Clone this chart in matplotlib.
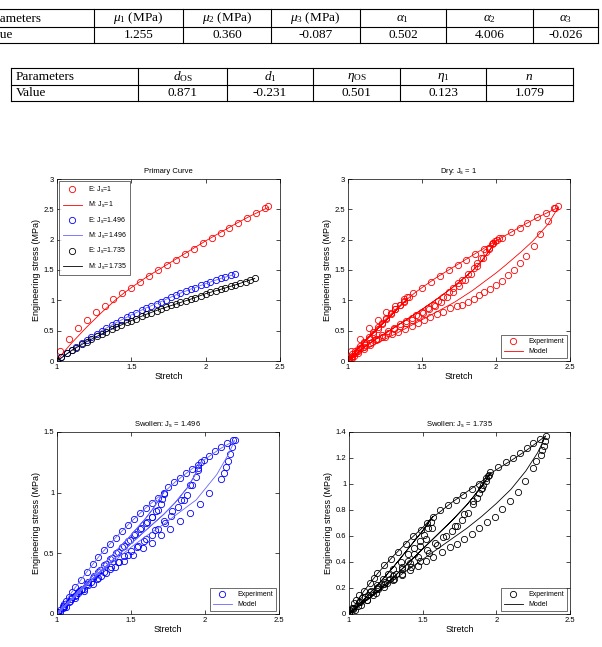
import numpy as np
import matplotlib
matplotlib.use('Agg')
from matplotlib import pyplot as plt
from matplotlib.lines import Line2D

plt.rcParams['font.family'] = 'Liberation Sans'
plt.rcParams['mathtext.fontset'] = 'custom'
plt.rcParams['mathtext.rm'] = 'Liberation Serif'
plt.rcParams['mathtext.it'] = 'Liberation Serif:italic'
plt.rcParams['mathtext.default'] = 'regular'

# ---- tables ----
tab1_header = ['Parameters', r'$\mathit{\mu}_1$ (MPa)', r'$\mathit{\mu}_2$ (MPa)', r'$\mathit{\mu}_3$ (MPa)',
               r'$\mathit{\alpha}_1$', r'$\mathit{\alpha}_2$', r'$\mathit{\alpha}_3$']
tab1_values = ['Value', '1.255', '0.360', '-0.087', '0.502', '4.006', '-0.026']
tab2_header = ['Parameters', r'$\mathit{d}_{OS}$', r'$\mathit{d}_1$', r'$\mathit{\eta}_{OS}$',
               r'$\mathit{\eta}_1$', r'$\mathit{n}$']
tab2_values = ['Value', '0.871', '-0.231', '0.501', '0.123', '1.079']

# ---- primary curves ----
prim_red_x = [1.02, 1.08, 1.14, 1.20, 1.26, 1.32, 1.38, 1.44, 1.50, 1.56, 1.62, 1.68, 1.74,
              1.80, 1.86, 1.92, 1.98, 2.04, 2.10, 2.16, 2.22, 2.28, 2.34, 2.40, 2.42]
prim_red_y = [0.16, 0.37, 0.54, 0.68, 0.80, 0.91, 1.02, 1.12, 1.21, 1.31, 1.40, 1.50, 1.58,
              1.67, 1.76, 1.85, 1.94, 2.02, 2.11, 2.19, 2.28, 2.36, 2.44, 2.53, 2.55]
prim_blue_x = [1.00, 1.03, 1.07, 1.10, 1.13, 1.17, 1.20, 1.23, 1.27, 1.30, 1.33, 1.37, 1.40,
               1.43, 1.47, 1.50, 1.53, 1.57, 1.60, 1.63, 1.67, 1.70, 1.73, 1.77, 1.80, 1.83,
               1.87, 1.90, 1.93, 1.97, 2.00, 2.03, 2.07, 2.10, 2.13, 2.17, 2.20]
prim_blue_y = [0.00, 0.06, 0.13, 0.18, 0.23, 0.30, 0.345, 0.39, 0.45, 0.50, 0.54, 0.59, 0.63,
               0.67, 0.72, 0.76, 0.795, 0.84, 0.875, 0.905, 0.945, 0.98, 1.01, 1.055, 1.095, 1.12,
               1.16, 1.185, 1.21, 1.245, 1.275, 1.30, 1.335, 1.365, 1.39, 1.42, 1.43]
prim_black_x = [1.00, 1.03, 1.07, 1.10, 1.13, 1.17, 1.20, 1.23, 1.27, 1.30, 1.33, 1.37, 1.40,
                1.43, 1.47, 1.50, 1.53, 1.57, 1.60, 1.63, 1.67, 1.70, 1.73, 1.77, 1.80, 1.83,
                1.87, 1.90, 1.93, 1.97, 2.00, 2.03, 2.07, 2.10, 2.13, 2.17, 2.20, 2.23, 2.27,
                2.30, 2.33]
prim_black_y = [0.00, 0.06, 0.13, 0.175, 0.22, 0.275, 0.32, 0.36, 0.41, 0.445, 0.48, 0.525, 0.56,
                0.595, 0.635, 0.665, 0.695, 0.735, 0.77, 0.795, 0.83, 0.86, 0.885, 0.915, 0.94, 0.965,
                0.995, 1.02, 1.045, 1.075, 1.11, 1.13, 1.16, 1.18, 1.205, 1.235, 1.255, 1.28, 1.31,
                1.33, 1.36]

mod_red_x = [1.00, 1.05, 1.10, 1.15, 1.20, 1.25, 1.30, 1.35, 1.40, 1.45, 1.50, 1.60, 1.70, 1.80,
             1.90, 2.00, 2.10, 2.20, 2.30, 2.42]
mod_red_y = [0.00, 0.16, 0.30, 0.43, 0.56, 0.68, 0.80, 0.91, 1.02, 1.12, 1.21, 1.38, 1.53, 1.68,
             1.83, 1.98, 2.12, 2.26, 2.39, 2.53]
mod_blue_x = [1.00, 1.10, 1.20, 1.30, 1.40, 1.50, 1.60, 1.70, 1.80, 1.90, 2.00, 2.10, 2.20]
mod_blue_y = [0.00, 0.18, 0.345, 0.50, 0.635, 0.76, 0.875, 0.98, 1.09, 1.185, 1.275, 1.36, 1.43]
mod_black_x = [1.00, 1.10, 1.20, 1.30, 1.40, 1.50, 1.60, 1.70, 1.80, 1.90, 2.00, 2.10, 2.20, 2.33]
mod_black_y = [0.00, 0.175, 0.32, 0.445, 0.56, 0.665, 0.77, 0.86, 0.94, 1.02, 1.11, 1.18, 1.255, 1.36]

# ---- dry, Js = 1 : load / unload sequence ----
dry_exp_x = [1.00, 1.02, 1.08, 1.14, 1.20, 1.26, 1.32, 1.38, 1.40,
             1.38, 1.35, 1.32, 1.29, 1.26, 1.23, 1.20, 1.17, 1.14, 1.11, 1.08, 1.05, 1.03, 1.01,
             1.02, 1.05, 1.08, 1.11, 1.14, 1.17, 1.20, 1.23, 1.26, 1.29, 1.32, 1.35, 1.38, 1.41,
             1.44, 1.50, 1.56, 1.62, 1.68, 1.74, 1.80, 1.86, 1.92, 1.98, 2.01,
             1.99, 1.975, 1.95, 1.93, 1.90, 1.87, 1.85, 1.81, 1.77, 1.74, 1.71, 1.68, 1.64, 1.61,
             1.58, 1.54, 1.50, 1.46, 1.43, 1.39, 1.35, 1.31, 1.27, 1.23, 1.19, 1.15, 1.11, 1.07,
             1.04, 1.01,
             1.03, 1.07, 1.11, 1.15, 1.19, 1.23, 1.27, 1.31, 1.35, 1.39, 1.43, 1.47, 1.51, 1.55,
             1.59, 1.63, 1.67, 1.71, 1.75, 1.79, 1.83, 1.87, 1.91, 1.95, 1.98, 2.02,
             2.04, 2.10, 2.16, 2.21, 2.28, 2.34, 2.39, 2.42,
             2.40, 2.35, 2.30, 2.26, 2.20, 2.16, 2.12, 2.08, 2.04, 2.00, 1.96, 1.92, 1.885, 1.85,
             1.81, 1.77, 1.735, 1.69, 1.645, 1.60, 1.555, 1.515, 1.47, 1.43, 1.385, 1.34, 1.295,
             1.25, 1.205, 1.16, 1.115, 1.07, 1.03, 1.00]
dry_exp_y = [0.00, 0.16, 0.37, 0.54, 0.68, 0.80, 0.91, 1.02, 1.05,
             0.99, 0.93, 0.86, 0.79, 0.71, 0.63, 0.56, 0.48, 0.40, 0.32, 0.24, 0.16, 0.09, 0.03,
             0.05, 0.13, 0.21, 0.29, 0.37, 0.45, 0.53, 0.61, 0.69, 0.77, 0.85, 0.92, 0.98, 1.05,
             1.12, 1.21, 1.31, 1.40, 1.50, 1.58, 1.67, 1.76, 1.85, 1.94, 2.00,
             1.97, 1.93, 1.86, 1.79, 1.70, 1.61, 1.54, 1.43, 1.34, 1.28, 1.20, 1.13, 1.05, 0.99,
             0.93, 0.87, 0.81, 0.76, 0.71, 0.66, 0.61, 0.55, 0.49, 0.43, 0.37, 0.30, 0.23, 0.16,
             0.09, 0.03,
             0.05, 0.13, 0.20, 0.27, 0.34, 0.40, 0.46, 0.52, 0.58, 0.63, 0.68, 0.74, 0.79, 0.85,
             0.91, 0.98, 1.06, 1.14, 1.23, 1.33, 1.44, 1.56, 1.70, 1.84, 1.95, 2.02,
             2.03, 2.12, 2.20, 2.28, 2.37, 2.44, 2.53, 2.56,
             2.52, 2.30, 2.09, 1.90, 1.73, 1.61, 1.50, 1.41, 1.32, 1.25, 1.19, 1.14, 1.08, 1.02,
             0.98, 0.93, 0.90, 0.87, 0.81, 0.77, 0.73, 0.68, 0.63, 0.58, 0.53, 0.48, 0.44,
             0.40, 0.36, 0.31, 0.26, 0.20, 0.12, 0.04]
dry_mod_x = [1.00, 1.05, 1.10, 1.15, 1.20, 1.25, 1.30, 1.35, 1.40,
             1.35, 1.30, 1.25, 1.20, 1.15, 1.10, 1.05, 1.00,
             1.05, 1.10, 1.15, 1.20, 1.25, 1.30, 1.35, 1.40,
             1.45, 1.50, 1.60, 1.70, 1.80, 1.90, 2.00,
             1.95, 1.90, 1.85, 1.80, 1.70, 1.60, 1.50, 1.40, 1.30, 1.20, 1.10, 1.00,
             1.10, 1.20, 1.30, 1.40, 1.50, 1.60, 1.70, 1.80, 1.85, 1.90, 1.95, 2.00,
             2.10, 2.20, 2.30, 2.42,
             2.35, 2.25, 2.17, 2.06, 2.00, 1.95, 1.84, 1.72, 1.60, 1.50, 1.40, 1.30, 1.20,
             1.10, 1.00]
dry_mod_y = [0.00, 0.16, 0.30, 0.43, 0.56, 0.68, 0.80, 0.91, 1.02,
             0.90, 0.77, 0.65, 0.53, 0.41, 0.29, 0.16, 0.00,
             0.16, 0.29, 0.41, 0.53, 0.65, 0.77, 0.90, 1.02,
             1.12, 1.21, 1.38, 1.53, 1.68, 1.83, 1.98,
             1.80, 1.64, 1.51, 1.40, 1.20, 1.02, 0.85, 0.69, 0.53, 0.38, 0.21, 0.00,
             0.21, 0.38, 0.53, 0.69, 0.85, 1.02, 1.20, 1.40, 1.51, 1.64, 1.80, 1.98,
             2.12, 2.26, 2.39, 2.53,
             2.25, 1.98, 1.80, 1.57, 1.45, 1.36, 1.16, 0.97, 0.81, 0.68, 0.55, 0.42, 0.30,
             0.16, 0.00]

# ---- swollen, Js = 1.496 ----
sw1_exp_x = [1.00, 1.02, 1.04, 1.06, 1.08, 1.10, 1.12, 1.16, 1.20, 1.24, 1.28, 1.32, 1.36, 1.40,
             1.44, 1.48, 1.52, 1.56, 1.60, 1.64, 1.68, 1.72,
             1.71, 1.70, 1.67, 1.64, 1.61, 1.57, 1.53, 1.49, 1.45, 1.41, 1.37, 1.33, 1.29, 1.25,
             1.21, 1.17, 1.13, 1.09, 1.05, 1.02,
             1.04, 1.08, 1.12, 1.16, 1.20, 1.24, 1.28, 1.32, 1.36, 1.40, 1.44, 1.48, 1.52, 1.56,
             1.60, 1.64, 1.68, 1.72,
             1.75, 1.79, 1.83, 1.87, 1.91, 1.95, 1.97,
             1.955, 1.94, 1.91, 1.875, 1.855, 1.82, 1.77, 1.73, 1.685, 1.64, 1.59, 1.545, 1.50,
             1.455, 1.41, 1.365, 1.32, 1.275, 1.23, 1.185, 1.14, 1.095, 1.05, 1.01,
             1.06, 1.12, 1.18, 1.24, 1.30, 1.36, 1.42, 1.48, 1.54, 1.60, 1.66, 1.72, 1.78, 1.84,
             1.90, 1.95,
             1.99, 2.03, 2.07, 2.11, 2.15, 2.19, 2.20,
             2.185, 2.17, 2.155, 2.14, 2.128, 2.11, 2.03, 1.964, 1.896, 1.833, 1.766, 1.705,
             1.64, 1.58, 1.515, 1.456, 1.393, 1.33, 1.27, 1.21, 1.15, 1.10, 1.05, 1.01]
sw1_exp_y = [0.00, 0.03, 0.07, 0.11, 0.14, 0.18, 0.22, 0.28, 0.345, 0.41, 0.47, 0.53, 0.58, 0.63,
             0.685, 0.73, 0.785, 0.83, 0.875, 0.915, 0.96, 1.00,
             0.95, 0.905, 0.85, 0.80, 0.76, 0.71, 0.66, 0.61, 0.56, 0.51, 0.46, 0.41, 0.36, 0.31,
             0.26, 0.21, 0.16, 0.11, 0.06, 0.02,
             0.05, 0.10, 0.15, 0.20, 0.25, 0.30, 0.35, 0.40, 0.45, 0.50, 0.55, 0.60, 0.65, 0.70,
             0.75, 0.80, 0.86, 0.99,
             1.045, 1.085, 1.125, 1.16, 1.195, 1.23, 1.25,
             1.19, 1.13, 1.06, 0.98, 0.94, 0.88, 0.81, 0.75, 0.70, 0.65, 0.60, 0.56, 0.52,
             0.48, 0.43, 0.39, 0.35, 0.30, 0.26, 0.21, 0.17, 0.12, 0.07, 0.02,
             0.06, 0.13, 0.19, 0.25, 0.31, 0.37, 0.43, 0.49, 0.55, 0.62, 0.69, 0.77, 0.85, 0.94,
             1.06, 1.20,
             1.27, 1.305, 1.34, 1.375, 1.41, 1.43, 1.43,
             1.38, 1.32, 1.26, 1.21, 1.16, 1.11, 1.00, 0.91, 0.83, 0.765, 0.70, 0.65,
             0.585, 0.54, 0.49, 0.44, 0.39, 0.34, 0.29, 0.24, 0.19, 0.14, 0.08, 0.02]
sw1_mod_x = [1.00, 1.10, 1.20, 1.30, 1.40, 1.50, 1.60, 1.72,
             1.65, 1.60, 1.50, 1.40, 1.30, 1.20, 1.10, 1.00,
             1.10, 1.20, 1.30, 1.40, 1.50, 1.60, 1.65, 1.72,
             1.80, 1.90, 1.97,
             1.93, 1.88, 1.80, 1.72, 1.60, 1.50, 1.40, 1.30, 1.20, 1.10, 1.00,
             1.10, 1.20, 1.30, 1.40, 1.50, 1.60, 1.72, 1.80, 1.88, 1.93, 1.97,
             2.10, 2.20,
             2.16, 2.08, 1.94, 1.72, 1.60, 1.50, 1.40, 1.30, 1.20, 1.10, 1.00]
sw1_mod_y = [0.00, 0.18, 0.345, 0.50, 0.635, 0.76, 0.875, 1.00,
             0.87, 0.79, 0.65, 0.52, 0.39, 0.26, 0.13, 0.00,
             0.13, 0.26, 0.39, 0.52, 0.65, 0.79, 0.87, 1.00,
             1.09, 1.185, 1.25,
             1.14, 1.04, 0.92, 0.82, 0.69, 0.58, 0.47, 0.36, 0.24, 0.12, 0.00,
             0.12, 0.24, 0.36, 0.47, 0.58, 0.69, 0.82, 0.92, 1.04, 1.14, 1.25,
             1.36, 1.43,
             1.32, 1.15, 0.94, 0.74, 0.64, 0.55, 0.45, 0.35, 0.24, 0.12, 0.00]

# ---- swollen, Js = 1.735 ----
sw2_exp_x = [1.00, 1.02, 1.05, 1.07, 1.10, 1.14, 1.17, 1.19, 1.24, 1.285, 1.335, 1.387, 1.437,
             1.489, 1.53, 1.57,
             1.555, 1.535, 1.51, 1.48, 1.44, 1.40, 1.35, 1.30, 1.267, 1.23, 1.19, 1.15, 1.11,
             1.07, 1.03, 1.00,
             1.04, 1.08, 1.12, 1.16, 1.20, 1.24, 1.28, 1.32, 1.36, 1.40, 1.44, 1.48, 1.52, 1.56,
             1.62, 1.674, 1.726, 1.776, 1.833, 1.885, 1.93, 1.96,
             1.946, 1.928, 1.912, 1.896, 1.883, 1.867, 1.844, 1.81, 1.77, 1.73, 1.697, 1.64,
             1.584, 1.527, 1.47, 1.414, 1.357, 1.30, 1.244, 1.188, 1.131, 1.075, 1.03,
             1.06, 1.12, 1.18, 1.24, 1.30, 1.36, 1.42, 1.48, 1.54, 1.60, 1.66, 1.72, 1.78, 1.84,
             1.90, 1.95,
             2.01, 2.063, 2.115, 2.16, 2.206, 2.25, 2.296, 2.335,
             2.33, 2.322, 2.312, 2.30, 2.27, 2.25, 2.195, 2.146, 2.094, 2.04, 1.992, 1.937,
             1.883, 1.833, 1.783, 1.731, 1.686, 1.63, 1.573, 1.52, 1.466, 1.414, 1.362, 1.308,
             1.255, 1.199, 1.143, 1.086, 1.036, 1.00]
sw2_exp_y = [0.00, 0.05, 0.11, 0.145, 0.18, 0.24, 0.28, 0.315, 0.374, 0.425, 0.477, 0.538, 0.597,
             0.65, 0.70, 0.75,
             0.71, 0.66, 0.61, 0.56, 0.51, 0.46, 0.40, 0.35, 0.31, 0.27, 0.22, 0.18, 0.13,
             0.09, 0.04, 0.01,
             0.03, 0.07, 0.11, 0.15, 0.19, 0.23, 0.27, 0.31, 0.36, 0.41, 0.46, 0.52, 0.58, 0.66,
             0.80, 0.84, 0.88, 0.915, 0.96, 1.00, 1.05, 1.09,
             1.06, 1.02, 0.99, 0.96, 0.93, 0.89, 0.85, 0.78, 0.72, 0.675, 0.64, 0.59,
             0.545, 0.493, 0.44, 0.39, 0.344, 0.295, 0.25, 0.198, 0.146, 0.095, 0.044,
             0.06, 0.11, 0.16, 0.21, 0.26, 0.31, 0.36, 0.41, 0.47, 0.53, 0.60, 0.68, 0.77, 0.87,
             0.97, 1.07,
             1.13, 1.166, 1.20, 1.24, 1.277, 1.315, 1.35, 1.37,
             1.33, 1.29, 1.26, 1.22, 1.175, 1.12, 1.02, 0.94, 0.867, 0.81, 0.75, 0.707,
             0.66, 0.615, 0.58, 0.54, 0.513, 0.477, 0.44, 0.405, 0.372, 0.34, 0.30, 0.272,
             0.238, 0.205, 0.169, 0.123, 0.085, 0.03]
sw2_mod_x = [1.00, 1.10, 1.20, 1.30, 1.40, 1.50, 1.57,
             1.50, 1.40, 1.30, 1.20, 1.10, 1.00,
             1.10, 1.20, 1.30, 1.40, 1.50, 1.57,
             1.60, 1.70, 1.80, 1.90, 1.96,
             1.90, 1.80, 1.70, 1.60, 1.50, 1.40, 1.30, 1.20, 1.10, 1.00,
             1.10, 1.20, 1.30, 1.40, 1.50, 1.60, 1.70, 1.80, 1.90, 1.96,
             2.00, 2.10, 2.20, 2.335,
             2.28, 2.20, 2.10, 2.00, 1.90, 1.80, 1.70, 1.60, 1.50, 1.40, 1.30, 1.20, 1.10, 1.00]
sw2_mod_y = [0.00, 0.175, 0.32, 0.445, 0.56, 0.665, 0.75,
             0.64, 0.50, 0.36, 0.23, 0.11, 0.00,
             0.11, 0.23, 0.36, 0.50, 0.64, 0.75,
             0.77, 0.86, 0.94, 1.02, 1.08,
             0.98, 0.84, 0.72, 0.61, 0.50, 0.39, 0.28, 0.18, 0.09, 0.00,
             0.09, 0.18, 0.28, 0.39, 0.50, 0.61, 0.72, 0.84, 0.98, 1.08,
             1.11, 1.18, 1.255, 1.37,
             1.24, 1.10, 0.96, 0.85, 0.75, 0.66, 0.58, 0.50, 0.42, 0.34, 0.26, 0.17, 0.09, 0.00]

W, H = 602, 647
fig = plt.figure(figsize=(W / 100, H / 100), dpi=100)


def fx(px):
    return px / W


def fy(py):
    return 1 - py / H


def draw_table(cols, rows, header, values, first_x):
    for y in rows:
        fig.add_artist(Line2D([fx(cols[0]), fx(cols[-1])], [fy(y), fy(y)],
                              transform=fig.transFigure, color='k', lw=0.8))
    for x in cols:
        fig.add_artist(Line2D([fx(x), fx(x)], [fy(rows[0]), fy(rows[-1])],
                              transform=fig.transFigure, color='k', lw=0.8))
    for r, row in enumerate([header, values]):
        yc = fy((rows[r] + rows[r + 1]) / 2 + 0.5)
        for c, txt in enumerate(row):
            if c == 0:
                fig.text(fx(first_x), yc, txt, ha='left', va='center',
                         family='Liberation Serif', fontsize=9.5)
            else:
                fig.text(fx((cols[c] + cols[c + 1]) / 2), yc, txt, ha='center', va='center',
                         family='Liberation Serif', fontsize=9.5)


draw_table([-40, 94, 183, 271, 360, 446, 533, 598], [9, 27, 43], tab1_header, tab1_values, -17)
draw_table([11, 138, 227, 313, 400, 486, 573], [68, 85, 101], tab2_header, tab2_values, 16)


def style(ax, title, ylim, yticks):
    ax.set_xlim(1, 2.5)
    ax.set_ylim(*ylim)
    ax.set_xticks([1, 1.5, 2, 2.5])
    ax.set_xticklabels(['1', '1.5', '2', '2.5'])
    ax.set_yticks(yticks)
    ax.set_yticklabels(['%g' % t for t in yticks])
    ax.tick_params(direction='in', top=True, right=True, length=3, width=0.5,
                   labelsize=5.5, pad=2)
    for s in ax.spines.values():
        s.set_linewidth(0.5)
    ax.set_title(title, fontsize=5.5, pad=4)
    ax.set_xlabel('Stretch', fontsize=6.5, labelpad=1)
    ax.set_ylabel('Engineering stress (MPa)', fontsize=6.5, labelpad=2)


mk = dict(ls='none', marker='o', mfc='none', ms=4.5, mew=0.6)

ax1 = fig.add_axes([fx(57), fy(361), fx(280) - fx(57), fy(179) - fy(361)])
ax1.plot(prim_red_x, prim_red_y, color='r', label=r'E: $J_s$=1', **mk)
ax1.plot(mod_red_x, mod_red_y, color='r', lw=0.6, label=r'M: $J_s$=1')
ax1.plot(prim_blue_x, prim_blue_y, color='b', label=r'E: $J_s$=1.496', **mk)
ax1.plot(mod_blue_x, mod_blue_y, color='#6666ff', lw=0.6, label=r'M: $J_s$=1.496')
ax1.plot(prim_black_x, prim_black_y, color='k', label=r'E: $J_s$=1.735', **mk)
ax1.plot(mod_black_x, mod_black_y, color='k', lw=0.6, label=r'M: $J_s$=1.735')
style(ax1, 'Primary Curve', (0, 3), [0, 0.5, 1, 1.5, 2, 2.5, 3])
leg = ax1.legend(loc='upper left', fontsize=5, fancybox=False, edgecolor='k',
                 handlelength=2.8, labelspacing=0.75, borderpad=0.5, borderaxespad=0.3)
leg.get_frame().set_linewidth(0.5)

panels = [
    ([fx(348), fy(361), fx(570) - fx(348), fy(179) - fy(361)], dry_exp_x, dry_exp_y,
     dry_mod_x, dry_mod_y, 'r', 'r', r'Dry: $J_s$ = 1', (0, 3), [0, 0.5, 1, 1.5, 2, 2.5, 3]),
    ([fx(57), fy(614), fx(279) - fx(57), fy(432) - fy(614)], sw1_exp_x, sw1_exp_y,
     sw1_mod_x, sw1_mod_y, 'b', '#6666ff', r'Swollen: $J_s$ = 1.496', (0, 1.5), [0, 0.5, 1, 1.5]),
    ([fx(349), fy(614), fx(570) - fx(349), fy(432) - fy(614)], sw2_exp_x, sw2_exp_y,
     sw2_mod_x, sw2_mod_y, 'k', 'k', r'Swollen: $J_s$ = 1.735', (0, 1.4),
     [0, 0.2, 0.4, 0.6, 0.8, 1, 1.2, 1.4]),
]
for rect, ex, ey, mx, my, c1, c2, title, ylim, yt in panels:
    ax = fig.add_axes(rect)
    ax.plot(ex, ey, color=c1, label='Experiment', **mk)
    ax.plot(mx, my, color=c2, lw=0.6, label='Model')
    style(ax, title, ylim, yt)
    lg = ax.legend(loc='lower right', fontsize=5, fancybox=False, edgecolor='k',
                   handlelength=2.8, borderaxespad=0.4)
    lg.get_frame().set_linewidth(0.5)

fig.savefig('out.png', dpi=100)
